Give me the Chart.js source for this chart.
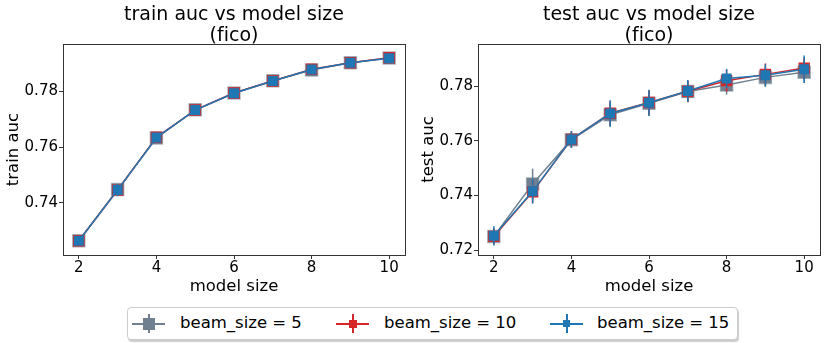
<!DOCTYPE html>
<html>
<head>
<meta charset="utf-8">
<script src="https://cdn.jsdelivr.net/npm/chart.js@4.4.1/dist/chart.umd.min.js"></script>
<style>
  body { margin: 0; background: #fff; font-family: 'DejaVu Sans', sans-serif; }
  #wrap { position: relative; width: 830px; height: 343px; }
  canvas { position: absolute; top: 0; }
  #trainChart { left: 0; }
  #testChart { left: 415px; }
  #legend {
    position: absolute; left: 127px; top: 307px; width: 611px; height: 33px;
    box-sizing: border-box; border: 1px solid #ccc; border-radius: 4px;
    box-shadow: 1px 2px 1px rgba(0,0,0,0.2); background: #fff;
  }
  .icon { position: absolute; top: 0; width: 33px; height: 31px; }
  .icon .hline { position: absolute; left: 0; right: 0; top: 15px; height: 1.5px; }
  .icon .vline { position: absolute; left: 16px; width: 1.5px; top: 6px; height: 19px; }
  .icon .mark { position: absolute; }
  .label { position: absolute; top: 5px; font-size: 16.5px; color: #000; white-space: nowrap; }
</style>
</head>
<body>
<div id="wrap">
  <canvas id="trainChart" width="415" height="300"></canvas>
  <canvas id="testChart" width="415" height="300"></canvas>
  <div id="legend"></div>
</div>
<script>
// model sizes on the x axis
const modelSizes = [2, 3, 4, 5, 6, 7, 8, 9, 10];
const xTicks = [2, 4, 6, 8, 10];
const beamLabels = ['beam_size = 5', 'beam_size = 10', 'beam_size = 15'];

// train auc (fico)
const trainBeam5  = [0.7265, 0.7448, 0.7632, 0.7733, 0.7793, 0.7837, 0.7875, 0.7901, 0.7918];
const trainBeam10 = [0.7265, 0.7446, 0.7635, 0.7732, 0.7793, 0.7836, 0.7878, 0.7901, 0.7919];
const trainBeam15 = [0.7265, 0.7446, 0.7634, 0.7732, 0.7792, 0.7836, 0.7877, 0.7901, 0.7917];
const trainErr5  = [0.0005, 0.0012, 0.0006, 0.0005, 0.0005, 0.0005, 0.0005, 0.0004, 0.0004];
const trainErr10 = [0.0005, 0.0015, 0.0006, 0.0005, 0.0005, 0.0005, 0.0005, 0.0004, 0.0004];
const trainErr15 = [0.0005, 0.0022, 0.0006, 0.0005, 0.0005, 0.0005, 0.0005, 0.0004, 0.0004];
const trainTicks = [0.74, 0.76, 0.78];

// test auc (fico)
const testBeam5  = [0.7250, 0.7442, 0.7604, 0.7695, 0.7737, 0.7780, 0.7804, 0.7832, 0.7851];
const testBeam10 = [0.7250, 0.7413, 0.7605, 0.7701, 0.7740, 0.7781, 0.7820, 0.7843, 0.7866];
const testBeam15 = [0.7252, 0.7415, 0.7605, 0.7700, 0.7739, 0.7782, 0.7828, 0.7840, 0.7862];
const testErr5  = [0.0030, 0.0056, 0.0030, 0.0045, 0.0045, 0.0038, 0.0035, 0.0035, 0.0040];
const testErr10 = [0.0030, 0.0040, 0.0030, 0.0045, 0.0045, 0.0040, 0.0040, 0.0040, 0.0040];
const testErr15 = [0.0035, 0.0045, 0.0030, 0.0048, 0.0048, 0.0040, 0.0035, 0.0040, 0.0050];
const testTicks = [0.72, 0.74, 0.76, 0.78];

const styles = [
  { color: '#708090', edge: 'rgba(112,128,144,0.55)', radius: 8.5, order: 2, legendSize: 12 },
  { color: '#d62728', edge: '#d62728', radius: 7, order: 1, legendSize: 8 },
  { color: '#1f77b4', edge: '#1f77b4', radius: 6, order: 0, legendSize: 7 }
];

// vertical error bars, drawn under each dataset's markers
const errorBars = {
  id: 'errorBars',
  beforeDatasetDraw(chart, args) {
    const ds = chart.data.datasets[args.index];
    if (!ds.errors) return;
    const { x, y } = chart.scales;
    const ctx = chart.ctx;
    ctx.save();
    ctx.strokeStyle = ds.borderColor;
    ctx.lineWidth = 1.5;
    ds.data.forEach((p, i) => {
      const px = x.getPixelForValue(p.x);
      ctx.beginPath();
      ctx.moveTo(px, y.getPixelForValue(p.y - ds.errors[i]));
      ctx.lineTo(px, y.getPixelForValue(p.y + ds.errors[i]));
      ctx.stroke();
    });
    ctx.restore();
  }
};

// box around the axes; tiny letter spacing keeps "fi" from turning into a ligature
const frame = {
  id: 'frame',
  beforeDraw(chart) {
    chart.ctx.letterSpacing = '0.01px';
  },
  afterDatasetsDraw(chart) {
    const a = chart.chartArea;
    const ctx = chart.ctx;
    ctx.save();
    ctx.strokeStyle = '#333';
    ctx.lineWidth = 1;
    ctx.strokeRect(Math.round(a.left) + 0.5, Math.round(a.top) + 0.5,
      Math.round(a.right - a.left), Math.round(a.bottom - a.top));
    ctx.restore();
  }
};

function makeChart(id, title, yLabel, series, errors, yMin, yMax, yTicks) {
  const datasets = series.map((vals, k) => ({
    label: beamLabels[k],
    data: modelSizes.map((m, i) => ({ x: m, y: vals[i] })),
    errors: errors[k],
    borderColor: styles[k].color,
    backgroundColor: styles[k].color,
    borderWidth: 1.5,
    pointStyle: 'rect',
    pointRadius: styles[k].radius,
    pointHoverRadius: styles[k].radius,
    pointBackgroundColor: styles[k].color,
    pointBorderColor: styles[k].edge,
    pointBorderWidth: 1.5,
    order: styles[k].order,
    tension: 0
  }));

  return new Chart(document.getElementById(id), {
    type: 'line',
    data: { datasets },
    plugins: [errorBars, frame],
    options: {
      responsive: false,
      animation: false,
      devicePixelRatio: 1,
      layout: { padding: { left: 0, right: 6, top: 0, bottom: 0 } },
      plugins: {
        legend: { display: false },
        tooltip: { enabled: false },
        title: {
          display: true,
          fullSize: false,
          text: [title, '(fico)'],
          color: '#000',
          font: { family: 'DejaVu Sans', size: 19, weight: 'normal', lineHeight: 1.08 },
          padding: { top: 5, bottom: -2 }
        }
      },
      scales: {
        x: {
          type: 'linear',
          min: 1.592,
          max: 10.408,
          afterBuildTicks: s => { s.ticks = xTicks.map(v => ({ value: v })); },
          afterFit: s => { s.height = 45; },
          grid: { drawOnChartArea: false, tickLength: 4, color: '#333' },
          border: { color: '#333' },
          ticks: { font: { family: 'DejaVu Sans', size: 15 }, color: '#000', padding: 0, maxRotation: 0 },
          title: {
            display: true, text: 'model size', color: '#000',
            font: { family: 'DejaVu Sans', size: 16.5 },
            padding: { top: 0, bottom: 3 }
          }
        },
        y: {
          min: yMin,
          max: yMax,
          afterBuildTicks: s => { s.ticks = yTicks.map(v => ({ value: v })); },
          afterFit: s => { s.width = 63; },
          grid: { drawOnChartArea: false, tickLength: 4, color: '#333' },
          border: { color: '#333' },
          ticks: {
            font: { family: 'DejaVu Sans', size: 15 }, color: '#000', padding: 1,
            callback: v => v.toFixed(2)
          },
          title: {
            display: true, text: yLabel, color: '#000',
            font: { family: 'DejaVu Sans', size: 16.5 },
            padding: { top: 4, bottom: 0 }
          }
        }
      }
    }
  });
}

makeChart('trainChart', 'train auc vs model size', 'train auc',
  [trainBeam5, trainBeam10, trainBeam15], [trainErr5, trainErr10, trainErr15],
  0.7214, 0.7968, trainTicks);

makeChart('testChart', 'test auc vs model size', 'test auc',
  [testBeam5, testBeam10, testBeam15], [testErr5, testErr10, testErr15],
  0.7182, 0.7954, testTicks);

// shared legend below both panels
const legend = document.getElementById('legend');
const iconLeft = [4, 208, 422];
const textLeft = [52, 256, 469];
beamLabels.forEach((lab, k) => {
  const st = styles[k];
  const icon = document.createElement('div');
  icon.className = 'icon';
  icon.style.left = iconLeft[k] + 'px';
  const s = st.legendSize;
  icon.innerHTML =
    '<div class="hline" style="background:' + st.color + '"></div>' +
    '<div class="vline" style="background:' + st.color + '"></div>' +
    '<div class="mark" style="background:' + st.color + ';width:' + s + 'px;height:' + s +
    'px;left:' + (16.75 - s / 2) + 'px;top:' + (15.75 - s / 2) + 'px"></div>';
  legend.appendChild(icon);
  const t = document.createElement('div');
  t.className = 'label';
  t.style.left = textLeft[k] + 'px';
  t.textContent = lab;
  legend.appendChild(t);
});
</script>
</body>
</html>
